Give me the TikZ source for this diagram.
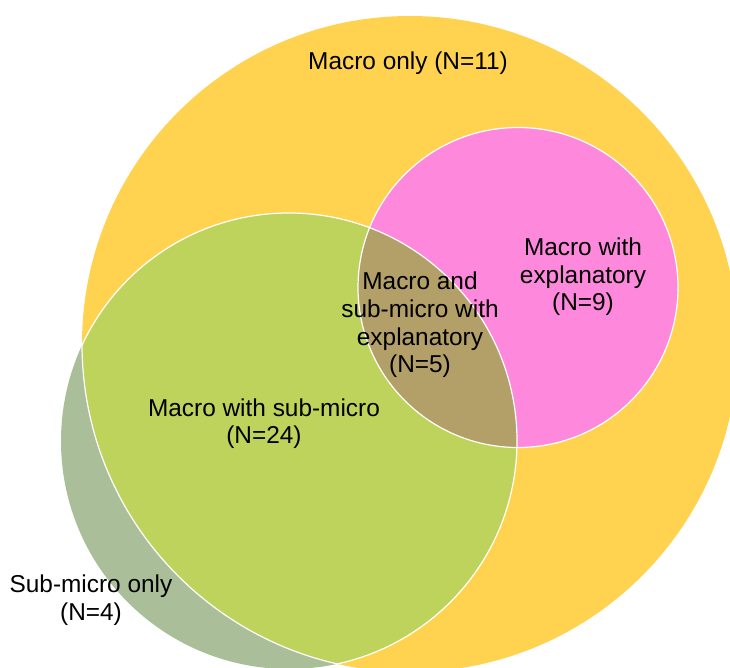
\documentclass[tikz,border=0pt]{standalone}
\usepackage{fontspec}
\setmainfont{Liberation Sans}
\definecolor{macroY}{RGB}{255,211,79}
\definecolor{subG}{RGB}{169,190,153}
\definecolor{bothG}{RGB}{190,211,92}
\definecolor{explP}{RGB}{254,136,220}
\definecolor{allB}{RGB}{179,159,104}
\begin{document}
\begin{tikzpicture}[x=1pt,y=-1pt,
  lbl/.style={align=center,inner sep=0pt,font=\fontsize{24.4}{27.6}\selectfont,text=black},
  edge/.style={draw=white,line width=1.2pt}]
\useasboundingbox (0,0) rectangle (730,668);
\def\macro{(410,344) circle[radius=328]}
\def\submicro{(289,441) circle[radius=228]}
\def\expl{(518,287.5) circle[radius=160]}
% fills
\fill[macroY] \macro;
\fill[subG] \submicro;
\begin{scope}
  \clip \submicro;
  \fill[bothG] \macro;
\end{scope}
\fill[explP] \expl;
\begin{scope}
  \clip \submicro;
  \fill[allB] \expl;
\end{scope}
% white borders
\begin{scope}
  \clip \submicro;
  \draw[edge] \macro;
\end{scope}
\begin{scope}
  \clip \macro;
  \draw[edge] \submicro;
\end{scope}
\draw[edge] \expl;
% labels
\node[lbl] (macroonly) at (408,63.5) {Macro only (N=11)};
\node[lbl] (macroexpl) at (583,277) {Macro with\\explanatory\\(N=9)};
\node[lbl] (allthree) at (420,325) {Macro and\\sub-micro with\\explanatory\\(N=5)};
\node[lbl] (macrosub) at (264,423.5) {Macro with sub-micro\\(N=24)};
\node[lbl] (subonly) at (91,600) {Sub-micro only\\(N=4)};
\end{tikzpicture}
\end{document}
